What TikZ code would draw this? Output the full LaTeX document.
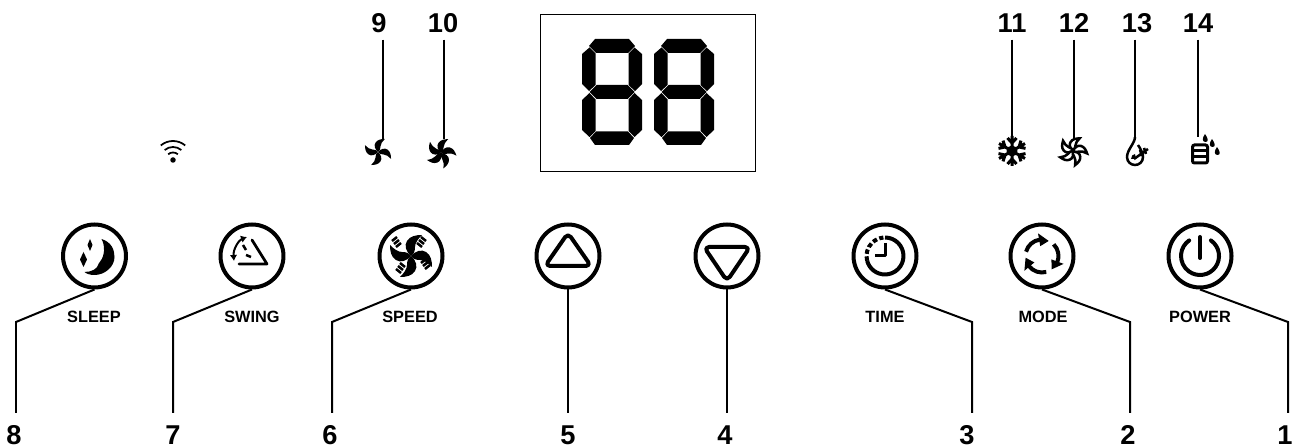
\documentclass[tikz,border=0pt]{standalone}
\usepackage{fontspec}
\setmainfont{Liberation Sans}
\usetikzlibrary{arrows.meta, positioning, calc}

\tikzset{
  blade/.pic={
    \fill (0,0) .. controls (-5,-4) and (-7,-11) .. (-4,-15) .. controls (-1,-20) and (5,-21) .. (11,-21)
      .. controls (7,-17) and (4,-13) .. (4,-9) .. controls (4,-5) and (3,-2) .. (0,0);
  },
  openblade/.pic={
    \draw[iconline, fill=white] (0,0) .. controls (-5,-4) and (-7,-11) .. (-4,-15) .. controls (-1,-20) and (5,-21) .. (11,-21)
      .. controls (7,-17) and (4,-13) .. (4,-9) .. controls (4,-5) and (3,-2) .. (0,0);
  },
  gridtick/.pic={
    \draw[line width=0.05cm] (-4,-3) -- (1,-7) (-2,0) -- (3,-4) (0,3) -- (5,-1);
  },
  modearrow/.pic={
    \draw[line width=0.08cm] (165:0.33cm) arc[start angle=165, end angle=98, radius=0.33cm];
    \fill (100:0.2cm) -- (100:0.46cm) -- (66:0.33cm) -- cycle;
  },
  lcddigit/.pic={
    \fill (13,0) -- (47,0) -- (53,7) -- (46,14) -- (14,14) -- (7,7) -- cycle;
    \fill (7.5,8.5) -- (13.5,14.5) -- (13.5,46) -- (7,52) -- (0,45) -- (0,15) -- cycle;
    \fill (52.5,8.5) -- (46.5,14.5) -- (46.5,46) -- (53,52) -- (60,45) -- (60,15) -- cycle;
    \fill (7.5,53) -- (14.5,46) -- (45.5,46) -- (52.5,53) -- (45.5,60) -- (14.5,60) -- cycle;
    \fill (7.5,54) -- (13.5,60.5) -- (13.5,92) -- (7.5,98) -- (0,91) -- (0,61) -- cycle;
    \fill (52.5,54) -- (46.5,60.5) -- (46.5,92) -- (52.5,98) -- (60,91) -- (60,61) -- cycle;
    \fill (8,99) -- (14,92.5) -- (46,92.5) -- (52,99) -- (47,106) -- (13,106) -- cycle;
  }
}

\begin{document}
\begin{tikzpicture}[
  x=0.02cm, y=-0.02cm,
  btn/.style={circle, draw=black, line width=0.08cm, minimum size=1.26cm, inner sep=0pt},
  tag/.style={font=\fontsize{9.3}{11}\selectfont\bfseries, inner sep=0pt},
  num/.style={font=\fontsize{15.5}{17}\selectfont\bfseries, text height=0.35cm, text depth=0pt, inner xsep=0pt, inner ysep=0.14cm},
  lownum/.style={num, inner ysep=0.28cm},
  leader/.style={line width=0.04cm},
  iconline/.style={line width=0.05cm},
  glyph/.style={line width=0.08cm, line cap=round, line join=round}
]
  \useasboundingbox (0,0) rectangle (1301,448);

  % buttons
  \node[btn] (sleep) at (94.5,256) {};
  \node[btn] (swing) at (252,256) {};
  \node[btn] (speed) at (411,256) {};
  \node[btn] (up) at (568,256) {};
  \node[btn] (down) at (727,256) {};
  \node[btn] (time) at (885,256) {};
  \node[btn] (mode) at (1042,256) {};
  \node[btn] (power) at (1200,256) {};

  \node[tag] (sleeptag) at (94,317) {SLEEP};
  \node[tag] (swingtag) at (252,317) {SWING};
  \node[tag] (speedtag) at (410,317) {SPEED};
  \node[tag] (timetag) at (885,317) {TIME};
  \node[tag] (modetag) at (1043,317) {MODE};
  \node[tag] (powertag) at (1200,317) {POWER};

  % numbers
  \node[lownum] (n8) at (14,436) {8};
  \node[lownum] (n7) at (173,436) {7};
  \node[lownum] (n6) at (330,436) {6};
  \node[lownum] (n5) at (568,436) {5};
  \node[lownum] (n4) at (725,436) {4};
  \node[lownum] (n3) at (967,436) {3};
  \node[lownum] (n2) at (1128,436) {2};
  \node[lownum] (n1) at (1285,436) {1};
  \node[num] (n9) at (379,23.5) {9};
  \node[num] (n10) at (443,23.5) {10};
  \node[num] (n11) at (1012,23.5) {11};
  \node[num] (n12) at (1074,23.5) {12};
  \node[num] (n13) at (1137,23.5) {13};
  \node[num] (n14) at (1198,23.5) {14};

  % leaders
  \coordinate (k8) at (16,322);
  \coordinate (k7) at (173,322);
  \coordinate (k6) at (332,322);
  \coordinate (k3) at (972,322);
  \coordinate (k2) at (1130,322);
  \coordinate (k1) at (1288,322);
  \draw[leader] (sleep.south) -- (k8) -- (k8 |- n8.north);
  \draw[leader] (swing.south) -- (k7) -- (k7 |- n7.north);
  \draw[leader] (speed.south) -- (k6) -- (k6 |- n6.north);
  \draw[leader] (up.south) -- (up |- n5.north);
  \draw[leader] (down.south) -- (down |- n4.north);
  \draw[leader] (time.south) -- (k3) -- (k3 |- n3.north);
  \draw[leader] (mode.south) -- (k2) -- (k2 |- n2.north);
  \draw[leader] (power.south) -- (k1) -- (k1 |- n1.north);

  \coordinate (e9) at (383,139);
  \coordinate (e10) at (444,139);
  \coordinate (e11) at (1012,140);
  \coordinate (e12) at (1073.5,139);
  \coordinate (e13) at (1134.5,137);
  \coordinate (e14) at (1198,137);
  \draw[leader] (e9 |- n9.south) -- (e9);
  \draw[leader] (e10 |- n10.south) -- (e10);
  \draw[leader] (e11 |- n11.south) -- (e11);
  \draw[leader] (e12 |- n12.south) -- (e12);
  \draw[leader] (e13 |- n13.south) -- (e13);
  \draw[leader] (e14 |- n14.south) -- (e14);

  % display
  \node[draw=black, line width=0.035cm, minimum width=4.3cm, minimum height=3.14cm, inner sep=0pt, outer sep=0pt] (display) at (648,93) {};
  \pic at (582,39) {lcddigit};
  \pic at (654,39) {lcddigit};

  % sleep
  \begin{scope}[shift={(sleep)}]
    \fill (7,-17) .. controls (17,-14) and (20,-6) .. (20,1) .. controls (20,11) and (10,19) .. (0,19)
      .. controls (-4,19) and (-8,18) .. (-10,16) .. controls (-3,16) and (3,13) .. (4,8)
      -- (6,5) .. controls (10,0) and (11,-10) .. (7,-17) -- cycle;
    \fill (-4.5,-17) -- (-2,-11) -- (-4.5,-5) -- (-7,-11) -- cycle;
    \fill (-11,-4) -- (-7.5,3.5) -- (-11,11) -- (-14.5,3.5) -- cycle;
  \end{scope}

  % swing
  \begin{scope}[shift={(swing)}]
    \draw[glyph, line width=0.055cm] (0,-16) -- (15,8) -- (-13,8);
    \draw[line width=0.04cm, {Latex[length=0.12cm,width=0.15cm]}-{Latex[length=0.12cm,width=0.15cm]}] (-5,-19) .. controls (-13,-16) and (-19,-7) .. (-18,5);
    \draw[iconline] (-9,-11) -- (-6,-6) (-6,-1) -- (-1,1);
  \end{scope}

  % speed
  \begin{scope}[shift={(speed)}]
    \pic[rotate=0] {blade};
    \pic[rotate=90] {blade};
    \pic[rotate=180] {blade};
    \pic[rotate=270] {blade};
    \pic at (-15,-12) {gridtick};
    \pic at (11,-12) [xscale=-1] {gridtick};
    \pic at (14,10) {gridtick};
    \pic at (-10,14) [xscale=-1] {gridtick};
  \end{scope}

  % up and down
  \draw[glyph, rounded corners=0.1cm] ($(up)+(0,-23)$) -- ($(up)+(23,10)$) -- ($(up)+(-23,10)$) -- cycle;
  \draw[glyph, rounded corners=0.1cm] ($(down)+(0,25)$) -- ($(down)+(23,-9)$) -- ($(down)+(-23,-9)$) -- cycle;

  % time
  \begin{scope}[shift={(time)}]
    \draw[glyph, line cap=butt] (90:0.37cm) arc[start angle=90, end angle=-165, radius=0.37cm];
    \draw[glyph, line cap=butt, dash pattern=on 0.09cm off 0.05cm] (195:0.37cm) arc[start angle=195, end angle=95, radius=0.37cm];
    \draw[glyph, line cap=butt, line width=0.06cm] (0,-13) -- (0,0) -- (-10,0);
  \end{scope}

  % mode
  \begin{scope}[shift={(mode)}]
    \pic {modearrow};
    \pic[rotate=-120] {modearrow};
    \pic[rotate=-240] {modearrow};
  \end{scope}

  % power
  \begin{scope}[shift={(power)}]
    \draw[glyph] (55:0.38cm) arc[start angle=55, end angle=-235, radius=0.38cm];
    \draw[glyph] (0,-19) -- (0,2);
  \end{scope}

  % wifi
  \begin{scope}[shift={(173,160)}]
    \fill (0,0) circle[radius=0.055cm];
    \draw[line width=0.035cm] (50:0.38cm) arc[start angle=50, end angle=130, radius=0.38cm];
    \draw[line width=0.035cm] (50:0.26cm) arc[start angle=50, end angle=130, radius=0.26cm];
    \draw[line width=0.035cm] (50:0.15cm) arc[start angle=50, end angle=130, radius=0.15cm];
  \end{scope}

  % fan icons
  \begin{scope}[shift={(378,152)}]
    \foreach \a in {0,90,180,270} \pic[rotate=\a, scale=0.62] {blade};
  \end{scope}
  \begin{scope}[shift={(441,153)}]
    \foreach \a in {0,72,144,216,288} \pic[rotate=\a, scale=0.66] {blade};
  \end{scope}
  \begin{scope}[shift={(1073,151)}]
    \foreach \a in {0,72,144,216,288} \pic[rotate=\a, scale=0.6] {openblade};
  \end{scope}

  % snowflake
  \begin{scope}[shift={(1012,151)}]
    \foreach \a in {0,60,120,180,240,300}
      \draw[line width=0.06cm, rotate=\a] (0,0) -- (0,-15) (-4.5,-13) -- (0,-8) -- (4.5,-13);
    \fill (0,0) circle[radius=0.11cm];
  \end{scope}

  % drop
  \begin{scope}[shift={(1135,157)}]
    \draw[iconline] (0,-20) .. controls (0,-14) and (-8,-7) .. (-8,0) .. controls (-8,5) and (-4,8) .. (0,8)
      .. controls (4,8) and (8,5) .. (8,0) .. controls (8,-4) and (5,-9) .. (3,-12);
    \draw[iconline] (-1,2) -- (13,-8) (5,-7) -- (7,-1) (9,-9) -- (11,-3);
    \fill (-4,2) .. controls (-4,-1) and (-2,-3) .. (0,-3) -- (1,2) -- cycle;
  \end{scope}

  % tank
  \draw[line width=0.06cm, rounded corners=0.04cm] (1192.5,145) -- (1192.5,163) -- (1207.5,163) -- (1207.5,145) -- cycle;
  \draw[iconline] (1192.5,150.5) -- (1207.5,150.5) (1192.5,156.5) -- (1207.5,156.5);
  \fill (1205,134) .. controls (1202,138) and (1202,142) .. (1205.5,142) .. controls (1209,142) and (1208,138) .. (1205,134);
  \fill (1212,139) .. controls (1209,143) and (1209,147) .. (1212.5,147) .. controls (1216,147) and (1215,143) .. (1212,139);
  \fill (1217,147) .. controls (1214,151) and (1214,155) .. (1217.5,155) .. controls (1221,155) and (1220,151) .. (1217,147);
\end{tikzpicture}
\end{document}
